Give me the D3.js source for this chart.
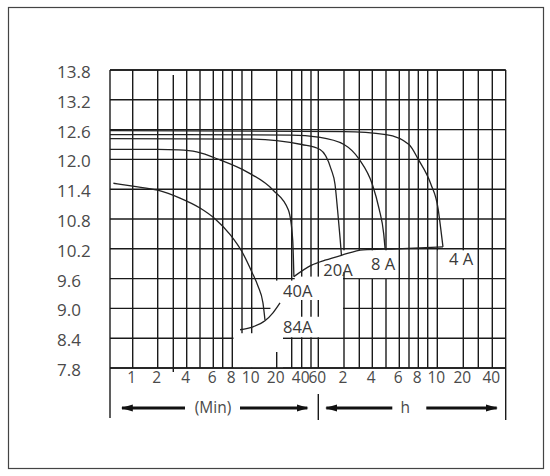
<!DOCTYPE html>
<html>
<head>
<meta charset="utf-8">
<script src="https://cdn.jsdelivr.net/npm/d3@7"></script>
<style>
  body { margin: 0; background: #fff; }
  svg { display: block; }
  .lbl { font-family: "Open Sans", sans-serif; font-size: 15.5px; fill: #4a4a4a; }
  .ylbl { font-size: 17px; }
  .clbl { font-size: 16.5px; fill: #3a3a3a; }
  .grid line { stroke: #1a1a1a; stroke-width: 1.4; }
  .curve { fill: none; stroke: #222; stroke-width: 1.3; }
</style>
</head>
<body>
<div id="chart"></div>
<script>
// voltage ticks
var yTicks = [7.8, 8.4, 9.0, 9.6, 10.2, 10.8, 11.4, 12.0, 12.6, 13.2, 13.8];

// time axis (minutes) - the chart uses a hand drawn semi log grid
var xBreaks = [0, 1, 2, 3, 4, 5, 6, 7, 8, 9, 10, 20, 30, 40, 50, 60, 120, 180, 240, 300, 360, 420, 480, 540, 600, 1200, 1800, 2400, 3000];
var xBreakPos = [0, 22.7, 47.7, 63.3, 76.7, 90, 103.3, 112.7, 122.3, 132, 141.7, 166.7, 181.7, 191.7, 201, 208.3, 234, 249.3, 262.3, 276, 289.3, 299, 308.3, 317.7, 327.3, 353.3, 368.3, 382.3, 395.7];
var gridMinutes = [1, 2, 4, 5, 6, 7, 8, 9, 10, 20, 30, 40, 50, 60, 120, 180, 240, 300, 360, 420, 480, 540, 600, 1200, 1800, 2400];
var tickMinutes = [1, 2, 4, 6, 8, 10, 20, 40, 60, 120, 240, 360, 480, 600, 1200, 2400];
var tickText = ["1", "2", "4", "6", "8", "10", "20", "40", "60", "2", "4", "6", "8", "10", "20", "40"];

// discharge curves [minutes, volts]
var curve84A = [[0.15, 11.52], [1, 11.46], [2, 11.38], [3.5, 11.22], [5, 11.02], [6.2, 10.8], [7.8, 10.48], [9, 10.14], [10.1, 9.73], [12.5, 9.45], [14.5, 9.11], [15.3, 8.77]];
var curve40A = [[0, 12.2], [2, 12.2], [3.4, 12.19], [4.75, 12.15], [6.7, 11.99], [9.5, 11.75], [18.6, 11.38], [27.8, 10.98], [31, 10.38], [32.2, 9.64]];
var curve20A = [[0, 12.42], [10, 12.41], [20, 12.38], [40, 12.3], [64, 12.2], [90, 11.8], [99, 11.5], [105, 10.98], [111, 10.4], [114, 10.07]];
var curve8A = [[0, 12.5], [30, 12.49], [60, 12.45], [120, 12.3], [180, 12.0], [240, 11.5], [270, 11.0], [290, 10.5], [296, 10.2]];
var curve4A = [[0, 12.58], [120, 12.56], [300, 12.5], [420, 12.3], [480, 12.0], [560, 11.5], [620, 11.0], [680, 10.6], [731, 10.24]];
var endLine84A = [[8.8, 8.57], [10.5, 8.63], [15.3, 8.75], [18.5, 8.91], [22.2, 9.11]];
var endLine = [[32.2, 9.64], [50.9, 9.87], [75.6, 9.97], [114, 10.07], [198, 10.18], [348, 10.2], [731, 10.24]];

var curveLabels = [
  {text: "84A", t: 36, v: 8.63},
  {text: "40A", t: 36, v: 9.34},
  {text: "20A", t: 106, v: 9.77},
  {text: "8 A", t: 287, v: 9.89},
  {text: "4 A", t: 1150, v: 10.0}
];

// white boxes behind the labels, cut out of the grid [t0, t1, v0, v1]
var knockouts = [
  [17.5, 117.7, 8.42, 9.56],
  [33, 117.7, 9.55, 9.64],
  [8.12, 24.2, 7.81, 8.5],
  [68.6, 124, 9.73, 10.17],
  [124, 354, 9.61, 10.17],
  [610, 1500, 9.61, 10.17]
];
// short grid pieces [t, v0, v1]
var stubs = [[20, 7.8, 8.12], [40, 8.83, 9.17], [50, 8.83, 9.17], [60, 8.83, 9.17], [3, 7.72, 13.7]];

var W = 550, H = 476;
var margin = {top: 70, left: 110};
var width = 395.7, height = 298;

var svg = d3.select("#chart").append("svg")
  .attr("width", W)
  .attr("height", H);

// outer frame
svg.append("rect")
  .attr("x", 8.5).attr("y", 7.5)
  .attr("width", 535).attr("height", 461)
  .attr("fill", "none").attr("stroke", "#444").attr("stroke-width", 1.2);

var x = d3.scaleLinear().domain(xBreaks).range(xBreakPos);
var y = d3.scaleLinear().domain([7.8, 13.8]).range([height, 0]);

var g = svg.append("g")
  .attr("transform", "translate(" + margin.left + "," + margin.top + ")");

// grid
var grid = g.append("g").attr("class", "grid");
grid.selectAll(".h").data(yTicks).enter().append("line")
  .attr("x1", 0).attr("x2", width)
  .attr("y1", function(d) { return y(d); })
  .attr("y2", function(d) { return y(d); });
grid.selectAll(".v").data(gridMinutes).enter().append("line")
  .attr("x1", function(d) { return x(d); })
  .attr("x2", function(d) { return x(d); })
  .attr("y1", 0).attr("y2", height);

// knock the label boxes out of the grid
g.selectAll(".ko").data(knockouts).enter().append("rect")
  .attr("fill", "#fff")
  .attr("x", function(d) { return x(d[0]); })
  .attr("width", function(d) { return x(d[1]) - x(d[0]); })
  .attr("y", function(d) { return y(d[3]); })
  .attr("height", function(d) { return y(d[2]) - y(d[3]); });

var stubG = g.append("g").attr("class", "grid");
stubG.selectAll("line").data(stubs).enter().append("line")
  .attr("x1", function(d) { return x(d[0]); })
  .attr("x2", function(d) { return x(d[0]); })
  .attr("y1", function(d) { return y(d[1]); })
  .attr("y2", function(d) { return y(d[2]); });

// frame of the plot, left and right sides run down past the axis
var frame = g.append("g").attr("class", "grid");
frame.append("line").attr("x1", 0).attr("x2", width).attr("y1", 0).attr("y2", 0);
frame.append("line").attr("x1", 0).attr("x2", width).attr("y1", height).attr("y2", height);
frame.append("line").attr("x1", x(0)).attr("x2", x(0)).attr("y1", 0).attr("y2", height + 50);
frame.append("line").attr("x1", x(3000)).attr("x2", x(3000)).attr("y1", 0).attr("y2", height + 52);
frame.append("line").attr("x1", x(60)).attr("x2", x(60)).attr("y1", height + 26).attr("y2", height + 52);

// curves
var line = d3.line()
  .x(function(d) { return x(d[0]); })
  .y(function(d) { return y(d[1]); })
  .curve(d3.curveMonotoneX);

[curve84A, curve40A, curve20A, curve8A, curve4A, endLine84A, endLine].forEach(function(c) {
  g.append("path").datum(c).attr("class", "curve").attr("d", line);
});

// curve labels
g.selectAll(".clbl").data(curveLabels).enter().append("text")
  .attr("class", "lbl clbl")
  .attr("x", function(d) { return x(d.t); })
  .attr("y", function(d) { return y(d.v); })
  .attr("text-anchor", "middle")
  .attr("dy", "0.35em")
  .text(function(d) { return d.text; });

// y labels
svg.selectAll(".ylbl").data(yTicks).enter().append("text")
  .attr("class", "lbl ylbl")
  .attr("x", 57)
  .attr("y", function(d) { return margin.top + y(d) + 2; })
  .attr("dy", "0.35em")
  .text(function(d) { return d.toFixed(1); });

// x labels
g.selectAll(".xlbl").data(tickMinutes).enter().append("text")
  .attr("class", "lbl")
  .attr("x", function(d) { return x(d) - 1; })
  .attr("y", height + 15)
  .attr("text-anchor", "middle")
  .text(function(d, i) { return tickText[i]; });

// unit arrows under the axis
svg.append("defs").append("marker")
  .attr("id", "head")
  .attr("viewBox", "0 0 10 6")
  .attr("refX", 9).attr("refY", 3)
  .attr("markerWidth", 4).attr("markerHeight", 2.4)
  .attr("orient", "auto-start-reverse")
  .append("path").attr("d", "M0,0L10,3L0,6Z").attr("fill", "#111");

var ay = height + 40;
var arrows = [
  [x(0) + 12, x(0) + 75, x(0) + 130, x(60) - 11],
  [x(60) + 8, x(60) + 74, x(60) + 108, x(3000) - 9]
];
arrows.forEach(function(a) {
  g.append("line").attr("x1", a[1]).attr("x2", a[0]).attr("y1", ay).attr("y2", ay)
    .attr("stroke", "#111").attr("stroke-width", 3).attr("marker-end", "url(#head)");
  g.append("line").attr("x1", a[2]).attr("x2", a[3]).attr("y1", ay).attr("y2", ay)
    .attr("stroke", "#111").attr("stroke-width", 3).attr("marker-end", "url(#head)");
});
g.append("text").attr("class", "lbl").attr("x", x(0) + 103).attr("y", ay).attr("dy", "0.35em")
  .attr("text-anchor", "middle").text("(Min)");
g.append("text").attr("class", "lbl").attr("x", x(60) + 87).attr("y", ay).attr("dy", "0.35em")
  .attr("text-anchor", "middle").text("h");
</script>
</body>
</html>
